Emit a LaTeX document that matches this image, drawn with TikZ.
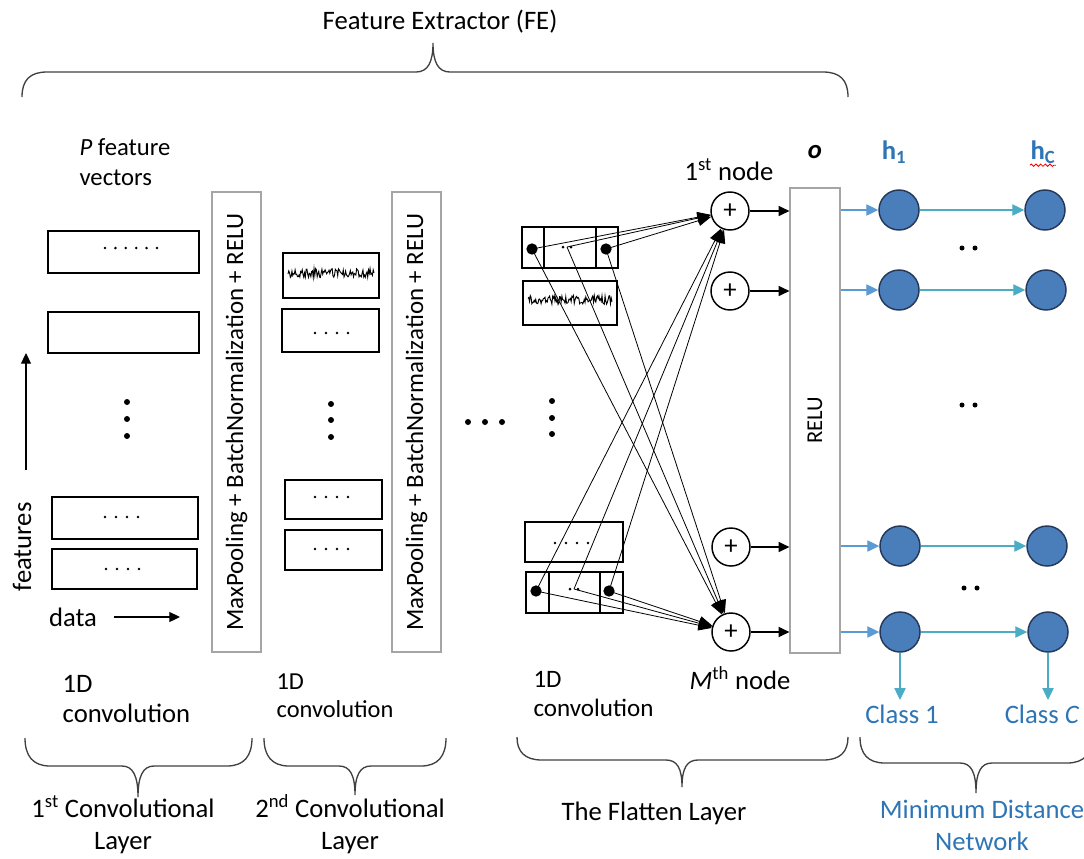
\documentclass[tikz,border=0pt]{standalone}
\usepackage{fontspec}
\setmainfont{Carlito}
\usepackage{xcolor}
\usetikzlibrary{arrows.meta,decorations.pathmorphing}

\definecolor{mdtext}{RGB}{46,117,182}
\definecolor{mdfill}{RGB}{74,126,187}
\definecolor{mdline}{RGB}{37,56,90}
\definecolor{relublue}{RGB}{91,155,213}
\definecolor{mdteal}{RGB}{75,172,198}
\definecolor{boxgray}{RGB}{165,165,165}
\definecolor{bracegray}{RGB}{64,64,64}

\begin{document}
\begin{tikzpicture}[x=0.75pt,y=0.75pt,yscale=-1,xscale=1,
    every node/.style={font=\fontsize{20}{24}\selectfont},
    thickbox/.style={line width=2pt},
    thinbox/.style={draw=boxgray, line width=0.9pt, inner sep=0pt},
    wavebox/.style={line width=0.8pt},
    bracelines/.style={draw=bracegray, line width=1pt},
    plusnode/.style={draw, circle, line width=1.1pt, minimum size=28.5pt, inner sep=0pt},
    mdnode/.style={draw=mdline, fill=mdfill, circle, line width=1.1pt, minimum size=30pt, inner sep=0pt},
    bigdot/.style={fill, circle, minimum size=8.5pt, inner sep=0pt},
    arr/.style={line width=0.8pt, -{Triangle[length=8pt,width=7.5pt]}},
    conn/.style={line width=0.6pt, -{Triangle[length=10pt,width=8pt]}},
    bluearr/.style={draw=relublue, line width=0.9pt, -{Triangle[length=9pt,width=8.5pt]}, color=relublue},
    tealarr/.style={draw=mdteal, line width=0.9pt, -{Triangle[length=9pt,width=8.5pt]}, color=mdteal}
  ]
  \useasboundingbox (0,0) rectangle (1084,858);

  %Feature extractor brace
  \node (fe) at (440,22) {Feature Extractor (FE)};
  \draw[bracelines] (22,97) .. controls (22,80) and (30,72) .. (47,72) -- (416,72) .. controls (428,72) and (433,62) .. (433,43) .. controls (433,62) and (438,72) .. (450,72) -- (823,72) .. controls (840,72) and (848,80) .. (848,97);

  %1st convolutional layer
  \node[align=left, font=\fontsize{18.5}{23}\selectfont] (pvec) at (125,162) {\textit{P} feature\\vectors};
  \draw[thickbox] (48,231) rectangle (199,273);
  \foreach \i in {0,...,5} \fill (105+\i*10.4,248) circle (1.4);
  \draw[thickbox] (48,312) rectangle (199,353);
  \foreach \y in {402,419,436} \fill (127,\y) circle (3);
  \draw[thickbox] (52,497) rectangle (198,539);
  \foreach \i in {0,...,3} \fill (105+\i*11,517) circle (1.4);
  \draw[thickbox] (52,549) rectangle (197,589);
  \foreach \i in {0,...,3} \fill (106+\i*11,569) circle (1.4);
  \node[rotate=90] (feat) at (22,547) {features};
  \coordinate (featA) at (26,470);
  \coordinate (featB) at (26,353);
  \draw[arr] (featA) -- (featB);
  \node (data) at (73,617) {data};
  \coordinate (dataA) at (114,617);
  \coordinate (dataB) at (180,617);
  \draw[arr] (dataA) -- (dataB);
  \node[thinbox, rotate=90, minimum width=345pt, minimum height=36.75pt, font=\fontsize{18.7}{22}\selectfont] (mp1) at (236.5,422) {MaxPooling + BatchNormalization + RELU};

  %2nd convolutional layer
  \draw[wavebox] (283,253) rectangle (379,298);
  \pgfmathsetseed{7}
  \draw[line width=0.7pt] plot[domain=288:374, samples=110] (\x,{273+4.5*rand});
  \draw[thickbox] (282,309) rectangle (379,352);
  \foreach \i in {0,...,3} \fill (315+\i*11,333) circle (1.4);
  \foreach \y in {404,420,437} \fill (331,\y) circle (3);
  \draw[thickbox] (285,480) rectangle (382,519);
  \foreach \i in {0,...,3} \fill (315+\i*11,497) circle (1.4);
  \draw[thickbox] (285,530) rectangle (382,570);
  \foreach \i in {0,...,3} \fill (315+\i*11,549) circle (1.4);
  \node[thinbox, rotate=90, minimum width=345pt, minimum height=36.75pt, font=\fontsize{18.7}{22}\selectfont] (mp2) at (416.5,422) {MaxPooling + BatchNormalization + RELU};
  \foreach \x in {468,485,502} \fill (\x,422) circle (3);

  %flatten layer
  \draw[thickbox] (522,227) rectangle (618,268);
  \draw[line width=1pt] (544,227) -- (544,268) (596,227) -- (596,268);
  \node[bigdot] (ta) at (532,249) {};
  \coordinate (tm) at (567,247);
  \node[bigdot] (tb) at (606,249) {};
  \fill (563,247) circle (1.5) (571,247) circle (1.5);
  \draw[wavebox] (523,281) rectangle (617,325);
  \pgfmathsetseed{19}
  \draw[line width=0.7pt] plot[domain=528:612, samples=110] (\x,{300+4.5*rand});
  \foreach \y in {401,418,434} \fill (552,\y) circle (3);
  \draw[thickbox] (525,522) rectangle (623,562);
  \foreach \i in {0,...,3} \fill (555+\i*11,543) circle (1.4);
  \draw[thickbox] (526,572) rectangle (623,613);
  \draw[line width=1pt] (549,572) -- (549,613) (600,572) -- (600,613);
  \node[bigdot] (ba) at (536,591) {};
  \coordinate (bm) at (574,589);
  \node[bigdot] (bb) at (609,591) {};
  \fill (570,589) circle (1.5) (578,589) circle (1.5);

  \node[plusnode] (p1) at (730,211) {+};
  \node[plusnode] (p2) at (730,291) {+};
  \node[plusnode] (p3) at (731,547) {+};
  \node[plusnode] (p4) at (731,632) {+};
  \node (n1) at (729,170) {1\textsuperscript{st} node};
  \node (nM) at (740,678) {\textit{M}\textsuperscript{th} node};

  \foreach \s in {ta,tm,tb,ba,bm,bb} {
    \draw[conn] (\s.center) -- (p1);
    \draw[conn] (\s.center) -- (p4);
  }

  \node[thinbox, rotate=90, minimum width=348.75pt, minimum height=37.5pt, font=\fontsize{17}{20}\selectfont] (relu) at (815,420.5) {RELU};
  \node (o) at (815,152) {\textbf{\textit{o}}};
  \foreach \p in {p1,p2,p3,p4} \draw[arr] (\p) -- (\p -| relu.north);

  %minimum distance network
  \node[text=mdtext] (h1) at (894,152) {\textbf{h\textsubscript{1}}};
  \node[text=mdtext] (hC) at (1043,152) {\textbf{h\textsubscript{C}}};
  \draw[red, line width=0.6pt, decorate, decoration={snake, amplitude=0.9pt, segment length=3.5pt}] (hC.south west) ++(4,-3) -- ++(26,0);

  \node[mdnode] (c11) at (899,210) {};
  \node[mdnode] (c12) at (1045,210) {};
  \node[mdnode] (c21) at (899,290) {};
  \node[mdnode] (c22) at (1046,290) {};
  \node[mdnode] (c31) at (900,546) {};
  \node[mdnode] (c32) at (1047,546) {};
  \node[mdnode] (c41) at (900,632) {};
  \node[mdnode] (c42) at (1048,632) {};

  \foreach \r in {1,2,3,4} {
    \draw[bluearr] (c\r1 -| relu.south) -- (c\r1);
    \draw[tealarr] (c\r1) -- (c\r2);
  }
  \foreach \y in {248,405} \fill (962,\y) circle (2.5) (975,\y) circle (2.5);
  \fill (964,588) circle (2.5) (977,588) circle (2.5);

  \node[text=mdtext, anchor=north] (cls1) at (902,700) {Class 1};
  \node[text=mdtext, anchor=north] (clsC) at (1042,700) {Class \textit{C}};
  \draw[tealarr] (c41) -- (c41 |- cls1.north);
  \draw[tealarr] (c42) -- (c42 |- clsC.north);

  %1D convolution labels
  \node[align=left, font=\fontsize{20}{22.5}\selectfont] (cv1) at (126.5,699) {1D\\convolution};
  \node[align=left, font=\fontsize{18.3}{21}\selectfont] (cv2) at (335,696) {1D\\convolution};
  \node[align=left, font=\fontsize{18.8}{21.5}\selectfont] (cv3) at (593.5,694) {1D\\convolution};

  %bottom braces
  \draw[bracelines] (25,738) .. controls (25,756) and (33,766) .. (50,766) -- (122,766) .. controls (133,766) and (138,776) .. (138,797) .. controls (138,776) and (143,766) .. (154,766) -- (227,766) .. controls (244,766) and (252,756) .. (252,738);
  \draw[bracelines] (264,738) .. controls (264,756) and (272,766) .. (289,766) -- (339,766) .. controls (350,766) and (355,775) .. (355,795) .. controls (355,775) and (360,766) .. (371,766) -- (421,766) .. controls (438,766) and (446,756) .. (446,738);
  \draw[bracelines] (517,737) .. controls (517,752) and (525,760) .. (542,760) -- (666,760) .. controls (677,760) and (682,768) .. (682,787) .. controls (682,768) and (687,760) .. (698,760) -- (823,760) .. controls (840,760) and (848,752) .. (848,737);
  \draw[bracelines] (860,737) .. controls (860,754) and (868,763) .. (885,763) -- (960,763) .. controls (971,763) and (976,772) .. (976,793) .. controls (976,772) and (981,763) .. (992,763) -- (1067,763) .. controls (1084,763) and (1092,754) .. (1092,737);

  \node[align=center] (l1) at (123,825) {1\textsuperscript{st} Convolutional\\Layer};
  \node[align=center] (l2) at (350,824) {2\textsuperscript{nd} Convolutional\\Layer};
  \node (l3) at (654,813) {The Flatten Layer};
  \node[align=center, text=mdtext] (l4) at (982,825) {Minimum Distance\\Network};
\end{tikzpicture}
\end{document}
